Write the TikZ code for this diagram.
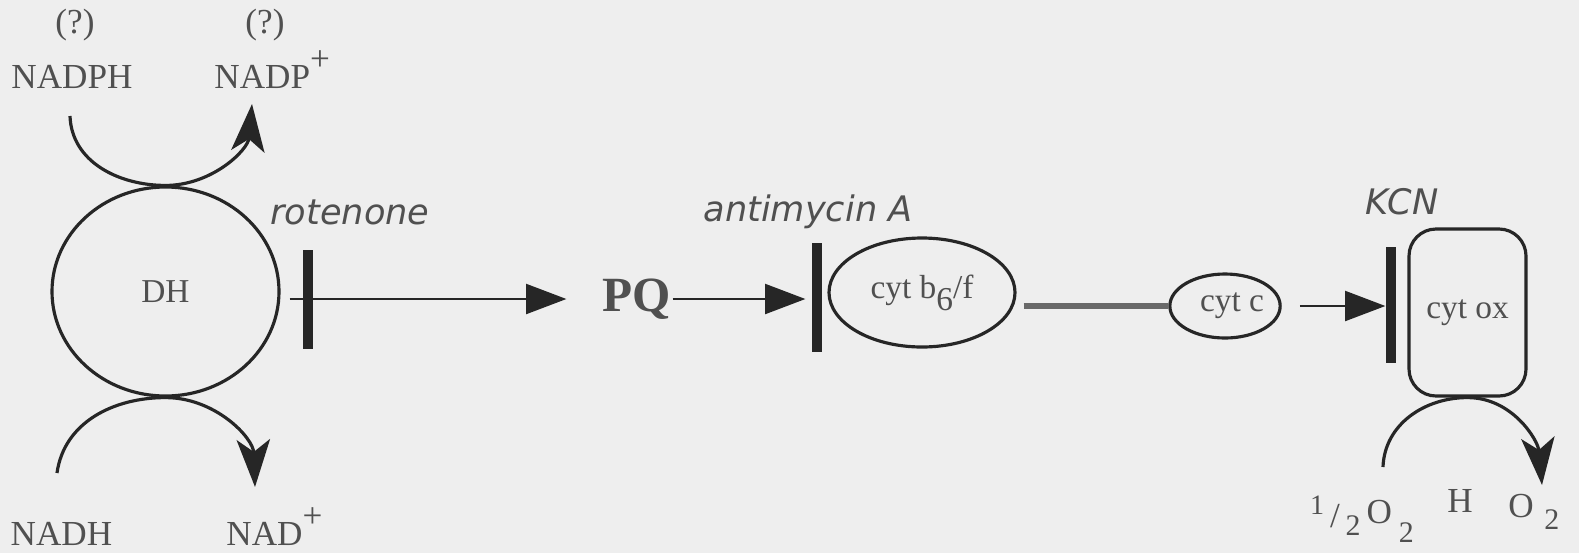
\documentclass[tikz,border=0pt]{standalone}
\usepackage{fontspec}
\setmainfont{Liberation Serif}
\newfontfamily\drugfont{DejaVu Sans}
\usetikzlibrary{calc,arrows.meta,shapes.geometric}

\definecolor{paper}{RGB}{238,238,238}
\definecolor{ink}{RGB}{38,38,38}
\definecolor{txt}{RGB}{80,80,80}
\definecolor{link}{RGB}{105,105,105}
\newcommand\lowd[2][-0.8ex]{\raisebox{#1}{#2}}

\begin{document}
\begin{tikzpicture}[line width=0.8pt,color=ink,>={Triangle[length=11.5pt,width=8.5pt]},
  curv/.style={line width=0.9pt,-{Stealth[length=13.5pt,width=9.5pt,inset=3.5pt]}},
  lbl/.style={text=txt,font=\fontsize{10}{12}\selectfont,inner sep=0pt},
  enz/.style={draw,line width=0.9pt,text=txt,font=\fontsize{9.5}{11}\selectfont,inner sep=0pt},
  drug/.style={text=txt,font=\drugfont\itshape\fontsize{10}{12}\selectfont,inner sep=0pt},
  blok/.style={line width=2.6pt}]
  \useasboundingbox (0,0) rectangle (15.79,5.53);
  \fill[paper] (0,0) rectangle (15.79,5.53);
  % --- DH with NADPH / NADH ---
  \node[enz,ellipse,minimum width=2.27cm,minimum height=2.09cm] (DH) at (1.655,2.615) {DH};
  \node[lbl] (q1) at (0.75,5.28) {(?)};
  \node[lbl] (q2) at (2.65,5.28) {(?)};
  \node[lbl,anchor=base] (NADPH) at (0.72,4.65) {NADPH};
  \node[lbl,anchor=base west] (NADP) at (2.13,4.65) {NADP\raisebox{1.1ex}{+}};
  \node[lbl,anchor=base] (NADH) at (0.615,0.08) {NADH};
  \node[lbl,anchor=base west] (NAD) at (2.25,0.08) {NAD\raisebox{1.1ex}{+}};
  \coordinate (nadph-in) at (0.70,4.37);
  \coordinate (nadp-out) at (2.52,4.49);
  \coordinate (nadh-in) at (0.57,0.80);
  \coordinate (nad-out) at (2.55,0.66);
  \draw[curv] (nadph-in) to[out=-88,in=180] (DH.north) to[out=0,in=-95] (nadp-out);
  \draw[curv] (nadh-in) to[out=82,in=180] (DH.south) to[out=0,in=92] (nad-out);
  % --- rotenone / PQ ---
  \node[lbl,font=\bfseries\fontsize{14}{16}\selectfont] (PQ) at (6.37,2.54) {PQ};
  \node[drug] (rot) at (3.50,3.41) {rotenone};
  \draw[->] ([xshift=0.09cm]DH.east |- PQ) -- ([xshift=-0.35cm]PQ.west);
  \draw[blok] (3.08,3.03) -- (3.08,2.04);
  % --- antimycin A / cyt b6/f ---
  \node[enz,ellipse,minimum width=1.86cm,minimum height=1.09cm] (cytb) at (9.22,2.605)
    {cyt b\lowd[-3.4pt]{6}/f};
  \node[drug] (anti) at (8.08,3.41) {antimycin A};
  \draw[->] (PQ.east) -- ([xshift=-0.22cm]cytb.west |- PQ);
  \draw[blok] (8.17,3.10) -- (8.17,2.01);
  % --- cyt c ---
  \node[enz,ellipse,minimum width=1.04cm,minimum height=0.64cm] (cytc) at (12.25,2.47) {\kern4pt cyt c};
  \draw[link,line width=1.9pt] ([xshift=0.07cm]cytb.east |- cytc) -- (cytc.west);
  % --- KCN / cyt ox ---
  \node[enz,rounded corners=0.27cm,minimum width=1.17cm,minimum height=1.67cm] (cytox) at (14.675,2.405) {cyt ox};
  \node[drug] (kcn) at (14.02,3.51) {KCN};
  \draw[->] ([xshift=0.18cm]cytc.east) -- ([xshift=-0.22cm]cytox.west |- cytc);
  \draw[blok] (13.91,3.06) -- (13.91,1.90);
  % water
  \coordinate (o2-in) at (13.83,0.86);
  \coordinate (h2o-out) at (15.42,0.68);
  \draw[curv] (o2-in) to[out=88,in=180] (cytox.south) to[out=0,in=95] (h2o-out);
  \node[lbl,anchor=base] (halfO2) at (13.62,0.30)
    {\lowd[0.5ex]{\fontsize{8}{9}\selectfont 1}\,\lowd[-0.3ex]{/}\,\lowd{\fontsize{8.5}{10}\selectfont 2}\,O\kern2pt\lowd[-1.2ex]{\fontsize{8.5}{10}\selectfont 2}};
  \node[lbl,anchor=base] (H) at (14.60,0.41) {H};
  \node[lbl,anchor=base west] (O2) at (15.07,0.36) {O\kern3pt\lowd{\fontsize{8.5}{10}\selectfont 2}};
\end{tikzpicture}
\end{document}
